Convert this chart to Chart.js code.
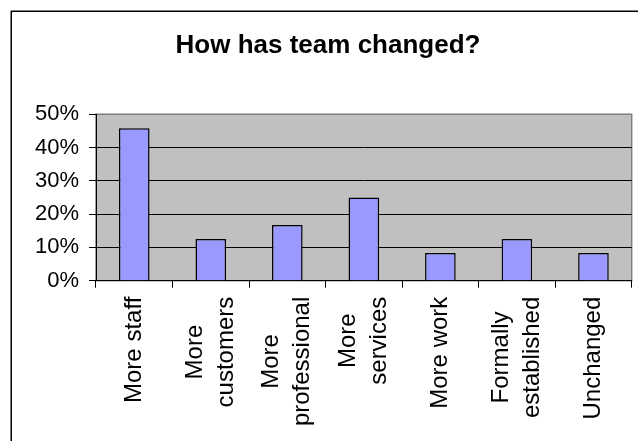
<!DOCTYPE html>
<html>
<head>
<meta charset="utf-8">
<title>How has team changed?</title>
<script src="https://cdn.jsdelivr.net/npm/chart.js@4"></script>
<style>
  html, body { margin: 0; padding: 0; background: #fff; overflow: hidden; }
  canvas { display: block; }
</style>
</head>
<body>
<canvas id="chart" width="638" height="441"></canvas>
<script>
// Survey answers: how the team has changed (share of respondents, %)
const categories = [
  ['More staff'],
  ['More', 'customers'],
  ['More', 'professional'],
  ['More', 'services'],
  ['More work'],
  ['Formally', 'established'],
  ['Unchanged']
];
const shares = [45.8, 12.5, 16.7, 25.0, 8.3, 12.5, 8.3];
const yTicks = [0, 10, 20, 30, 40, 50];

const FONT = '"Liberation Sans", Arial, sans-serif';

// Frame around the whole chart object and the grey plot background
const frameAndPlot = {
  id: 'frameAndPlot',
  beforeDraw(chart) {
    const { ctx, chartArea: a } = chart;
    ctx.save();
    ctx.fillStyle = '#fff';
    ctx.fillRect(0, 0, chart.width, chart.height);
    ctx.strokeStyle = '#000';
    ctx.lineWidth = 1.5;
    ctx.strokeRect(11.25, 11.25, chart.width + 40, chart.height + 40);
    ctx.fillStyle = '#c0c0c0';
    ctx.fillRect(a.left, a.top, a.right - a.left, a.bottom - a.top);
    ctx.strokeStyle = '#808080';
    ctx.lineWidth = 1.5;
    ctx.strokeRect(a.left, a.top, a.right - a.left, a.bottom - a.top);
    ctx.restore();
  }
};

// Vertical category labels, lines centred on each other, anchored below the axis
const categoryLabels = {
  id: 'categoryLabels',
  afterDraw(chart) {
    const { ctx } = chart;
    const xs = chart.scales.x;
    const size = 24, lineH = 31;
    ctx.save();
    ctx.font = size + 'px ' + FONT;
    ctx.fillStyle = '#000';
    ctx.textAlign = 'center';
    ctx.textBaseline = 'middle';
    categories.forEach((lines, i) => {
      const x = xs.getPixelForValue(i);
      const maxW = Math.max(...lines.map(l => ctx.measureText(l).width));
      ctx.save();
      ctx.translate(x, xs.top + 16);
      ctx.rotate(-Math.PI / 2);
      lines.forEach((line, j) => {
        ctx.fillText(line, -maxW / 2, (j - (lines.length - 1) / 2) * lineH);
      });
      ctx.restore();
    });
    ctx.restore();
  }
};

new Chart(document.getElementById('chart'), {
  type: 'bar',
  data: {
    labels: categories,
    datasets: [{
      data: shares,
      backgroundColor: '#9999ff',
      borderColor: '#000',
      borderWidth: 1.5,
      barPercentage: 0.4,
      categoryPercentage: 1.0
    }]
  },
  options: {
    responsive: false,
    animation: false,
    devicePixelRatio: 1,
    layout: { padding: { left: 24.3, right: 6.3, top: 0, bottom: 0 } },
    plugins: {
      legend: { display: false },
      tooltip: { enabled: false },
      title: {
        display: true,
        text: 'How has team changed?',
        color: '#000',
        font: { family: FONT, size: 26, weight: 'bold' },
        padding: { top: 30, bottom: 53 }
      }
    },
    scales: {
      x: {
        offset: true,
        grid: {
          offset: true,
          drawOnChartArea: false,
          drawTicks: true,
          tickLength: 7,
          tickColor: '#000',
          lineWidth: 1
        },
        border: { display: true, color: '#000', width: 1 },
        ticks: { display: false },
        afterFit(scale) {
          scale.height = 160.3;
          scale.paddingLeft = 0;
          scale.paddingRight = 0;
        }
      },
      y: {
        min: 0,
        max: 50,
        afterBuildTicks(scale) {
          scale.ticks = yTicks.map(v => ({ value: v }));
        },
        grid: {
          color: ctx => (ctx.tick && ctx.tick.value === 50 ? '#808080' : '#000'),
          tickColor: '#000',
          tickLength: 7,
          lineWidth: 1
        },
        border: { display: true, color: '#000', width: 1 },
        ticks: {
          color: '#000',
          padding: 10,
          font: { family: FONT, size: 22 },
          callback: v => v + '%'
        },
        afterFit(scale) {
          scale.width = 71.7;
        }
      }
    }
  },
  plugins: [frameAndPlot, categoryLabels]
});
</script>
</body>
</html>
